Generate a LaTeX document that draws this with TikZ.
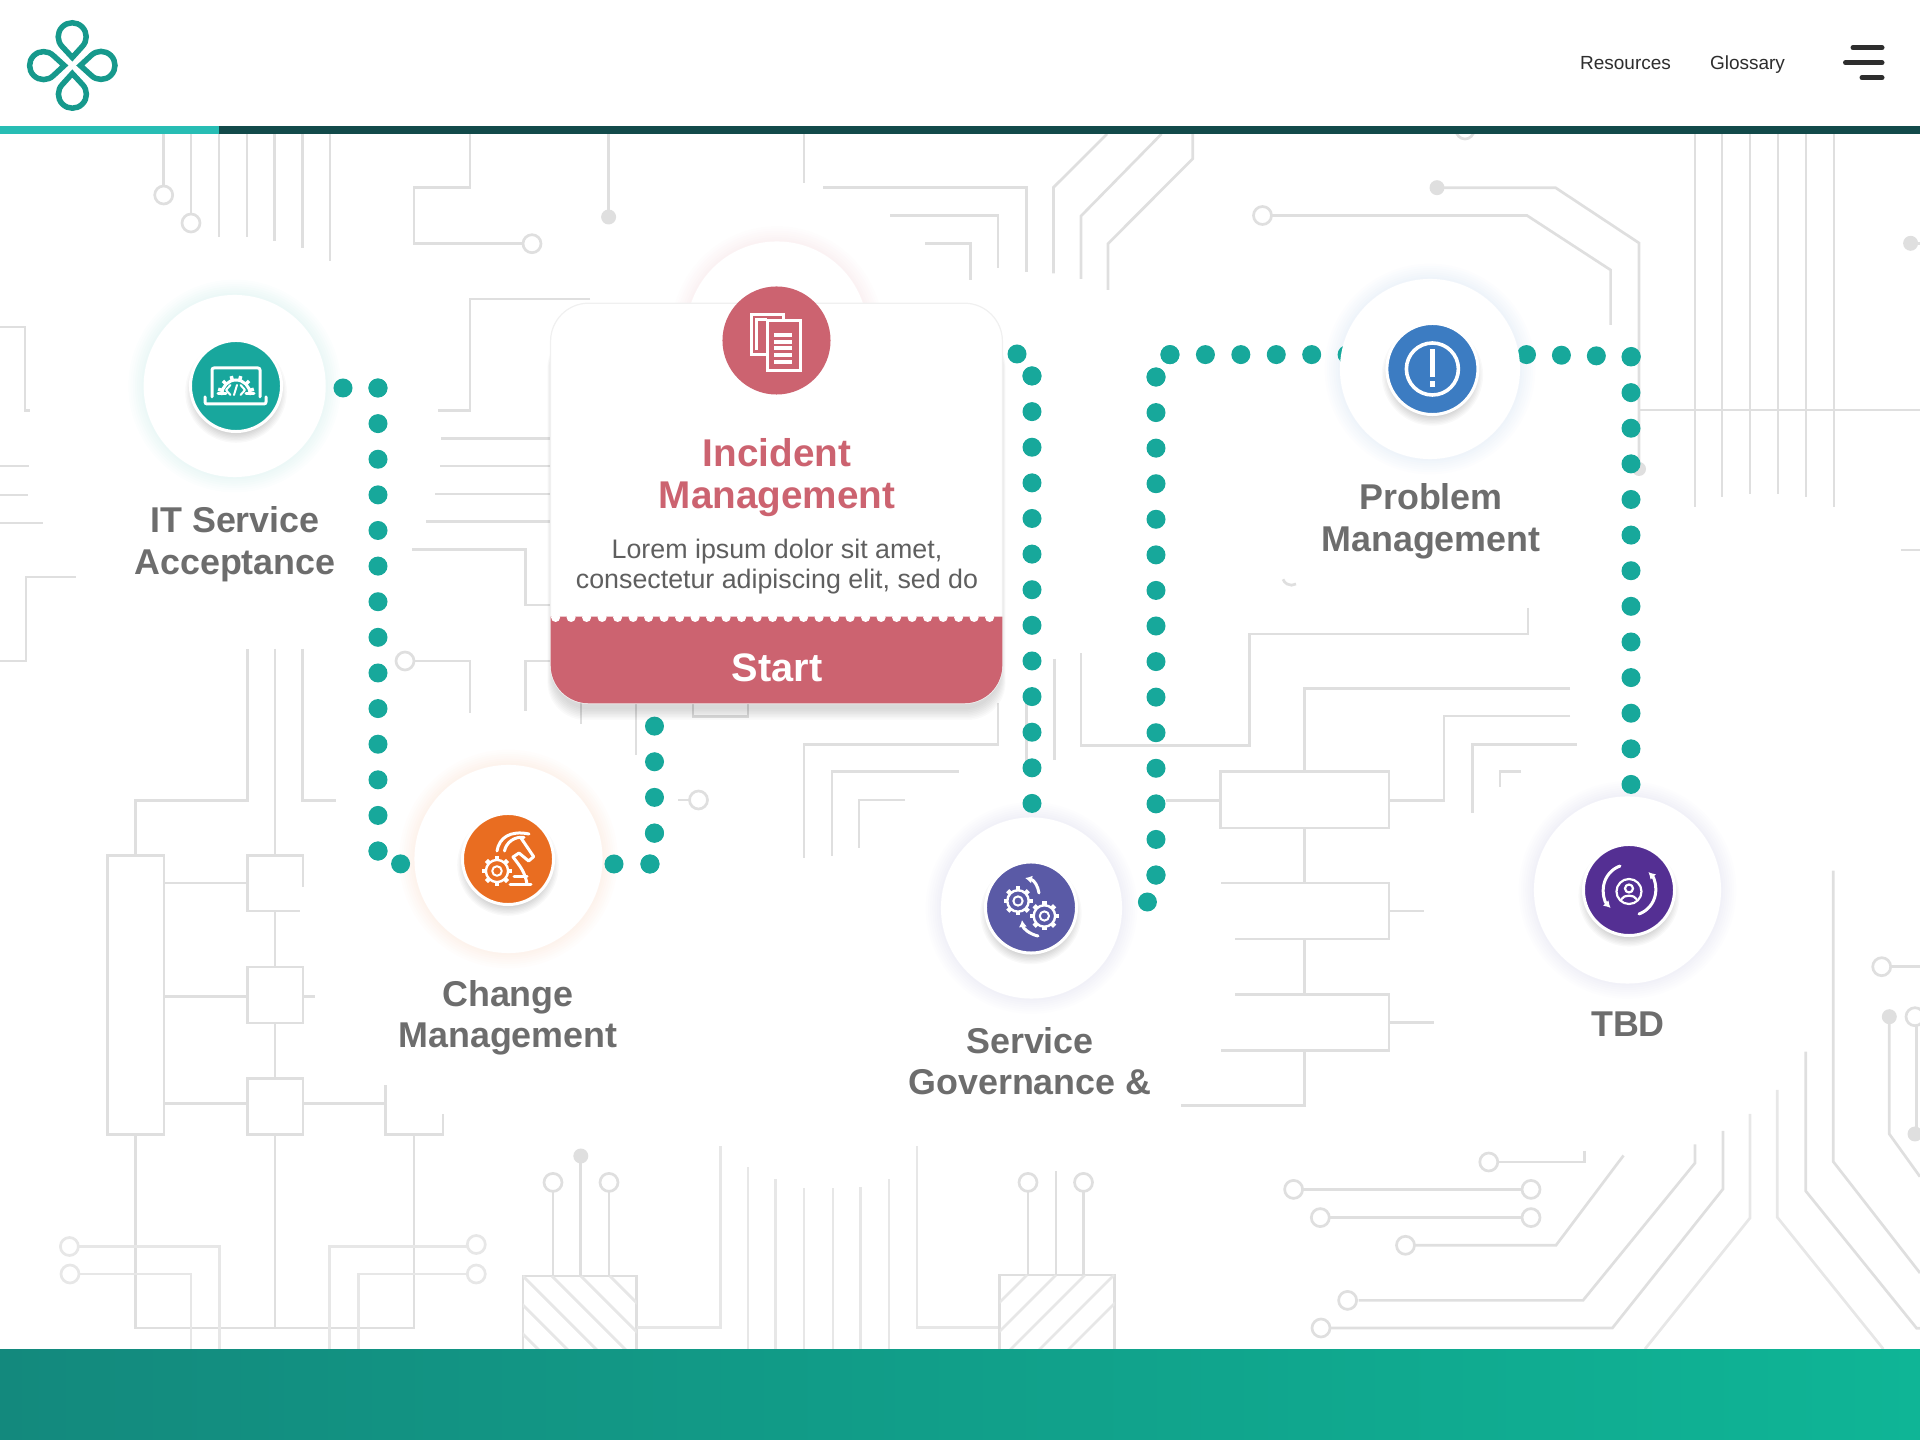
\documentclass[tikz,border=0pt]{standalone}
\usepackage{fontspec}
\setmainfont{Liberation Sans}
\usetikzlibrary{backgrounds,arrows.meta}
\tikzset{>={Latex[length=0.07cm,width=0.08cm]}}

\definecolor{wiregray}{HTML}{DFDFDF}
\definecolor{wirepale}{HTML}{E7E7E7}
\definecolor{dotteal}{HTML}{17A89B}
\definecolor{logoteal}{HTML}{16998C}
\definecolor{barteal}{HTML}{27BDB4}
\definecolor{bardark}{HTML}{124A4A}
\definecolor{acceptteal}{HTML}{18A79D}
\definecolor{rose}{HTML}{CC6370}
\definecolor{changeorange}{HTML}{E96D21}
\definecolor{govviolet}{HTML}{5A5AA6}
\definecolor{problemblue}{HTML}{3C7CC2}
\definecolor{tbdpurple}{HTML}{542F93}
\definecolor{labelgray}{HTML}{6D6D6D}
\definecolor{bodygray}{HTML}{5F5F5F}
\definecolor{navdark}{HTML}{2E2E2E}
\definecolor{footleft}{HTML}{13897D}
\definecolor{footright}{HTML}{0FB596}

\tikzset{
  wire/.style={draw=wiregray,line width=0.027cm,line join=miter},
  wirelow/.style={draw=wirepale,line width=0.027cm,line join=miter},
  dotlink/.style={draw=dotteal,line width=0.19cm,line cap=round,dash pattern=on 0pt off #1},
  halo/.style={circle,fill=white,inner sep=0pt,minimum size=#1},
  badge/.style={circle,draw=white,line width=0.03cm,inner sep=0pt,minimum size=0.91cm},
  iconline/.style={draw=white,line width=0.03cm,line cap=round,line join=round},
  steplabel/.style={text=labelgray,align=center,font=\bfseries\fontsize{10.2}{11.8}\selectfont},
  navlink/.style={text=navdark,anchor=base,font=\fontsize{5.4}{6.5}\selectfont},
  menubar/.style={draw=navdark,line width=0.05cm,line cap=round}
}

\begin{document}
\begin{tikzpicture}[x=0.01cm,y=-0.01cm]
  \useasboundingbox (0,0) rectangle (1920,1440);

  % help functions
        % open and filled pins on the traces
  \def\pinOpen(#1,#2){\draw[wire,fill=white] (#1,#2) circle (9);}
  \def\pinFull(#1,#2){\fill[wiregray] (#1,#2) circle (7.5);}
        % soft glow round a node
  \def\glowAt(#1,#2,#3){
    \foreach \k in {1,...,7}{
      \fill[#3,opacity=0.013] (#1) circle ({#2+\k*2.2});
    }}
        % soft shadow under a badge
  \def\shadowAt(#1,#2,#3){
    \foreach \k in {1,...,7}{
      \fill[black,opacity=0.024] (#1,#2+6) circle ({#3+\k*1.4-4.5});
    }}
        % small gear
  \def\gearAt(#1,#2,#3){
    \begin{scope}[shift={(#1,#2)}]
      \draw[iconline,line width=0.024cm] (0,0) circle ({#3*0.74});
      \draw[iconline,line width=0.02cm] (0,0) circle ({#3*0.32});
      \foreach \a in {0,45,...,315}{
        \draw[iconline,line cap=butt,line width=0.045cm] (\a:{#3*0.74}) -- (\a:#3);
      }
    \end{scope}}

  % STEPS
  \node[halo=1.82cm] (accept) at (234.7,386) {};
  \node[halo=1.88cm] (change) at (508.5,859) {};
  \node[halo=1.81cm] (incident) at (777,332) {};
  \node[halo=1.81cm] (govern) at (1031.5,908) {};
  \node[halo=1.80cm] (problem) at (1430,369) {};
  \node[halo=1.87cm] (tbd) at (1627.5,890) {};

  % connector ends
  \coordinate (a1) at (343,388);
  \coordinate (a2) at (378,388);
  \coordinate (a3) at (378,852);
  \coordinate (a4) at (378,851);
  \coordinate (a5) at (400.8,864);
  \coordinate (b1) at (614,864);
  \coordinate (b2) at (650,864);
  \coordinate (b3) at (654.5,833);
  \coordinate (b4) at (654.5,726);
  \coordinate (c1) at (1017,354);
  \coordinate (c2) at (1032,376);
  \coordinate (c3) at (1032,804.5);
  \coordinate (d1) at (1147.4,902);
  \coordinate (d2) at (1156,875);
  \coordinate (d3) at (1156,377);
  \coordinate (d4) at (1170,354.6);
  \coordinate (d5) at (1348,354.6);
  \coordinate (e1) at (1526.5,354.6);
  \coordinate (e2) at (1631.5,356.5);
  \coordinate (e3) at (1631,357);
  \coordinate (e4) at (1631,785);

  \begin{pgfonlayer}{background}
    % TRACES
      % top left
      \foreach \x/\yend in {219/237,247/237,274.7/241,302.4/248,330/260.7}{
        \draw[wire] (\x,134) -- (\x,\yend);
      }
      \draw[wire] (163.7,134) -- (163.7,186); \pinOpen(163.7,195)
      \draw[wire] (191,134) -- (191,214); \pinOpen(191,223)
      \draw[wire] (470,134) -- (470,187.7) -- (414,187.7) -- (414,243.7) -- (523,243.7); \pinOpen(532,243.7)
      \draw[wire] (608.6,134) -- (608.6,215); \pinFull(608.6,217)
      \draw[wire] (804,134) -- (804,182.7);
      % left edge
      \draw[wire] (0,327) -- (25,327) -- (25,410.7) -- (30,410.7);
      \draw[wire] (0,466) -- (28.6,466);
      \draw[wire] (0,495) -- (28,495);
      \draw[wire] (0,523) -- (43,523);
      \draw[wire] (0,661) -- (26,661) -- (26,577) -- (76,577);
      % round the card, left
      \draw[wire] (590,299) -- (470,299) -- (470,410.7) -- (438,410.7);
      \draw[wire] (441,438.3) -- (551,438.3);
      \draw[wire] (440,466) -- (551,466);
      \draw[wire] (435,494) -- (551,494);
      \draw[wire] (426,521.7) -- (551,521.7);
      \draw[wire] (412,549.3) -- (525.3,549.3) -- (525.3,605) -- (551,605);
      \draw[wire] (414,661) -- (470,661) -- (470,712.7); \pinOpen(405,661)
      \draw[wire] (525.3,711) -- (525.3,661) -- (551,661);
      \draw[wire] (581,703) -- (581,724);
      \draw[wire] (636,703) -- (636,755);
      \draw[wire] (693,703) -- (693,716.7) -- (748,716.7) -- (748,703);
      \draw[wire] (678,800) -- (690,800); \pinOpen(698.5,800)
      % top middle
      \draw[wire] (1107,134) -- (1053.5,187.4) -- (1053.5,273.5);
      \draw[wire] (1161.5,134) -- (1081,216) -- (1081,279);
      \draw[wire] (1192.8,134) -- (1192.8,158.7) -- (1108,243.7) -- (1108,290);
      \draw[wire] (823,187.3) -- (1026.7,187.3) -- (1026.7,271.7);
      \draw[wire] (890,215.3) -- (998,215.3) -- (998,268);
      \draw[wire] (925,243.3) -- (970.7,243.3) -- (970.7,280);
      % top right
      \draw[wire,fill=white] (1465,130) circle (9);
      \pinFull(1437,187.7)
      \draw[wire] (1437,187.7) -- (1555.5,187.7) -- (1639,243) -- (1639,465);
      \fill[wiregray] (1639,469) circle (7);
      \pinOpen(1262.5,215.5)
      \draw[wire] (1271.5,215.5) -- (1527,215.5) -- (1610.6,270) -- (1610.6,325);
      \foreach \x/\yend in {1695/507,1722/497,1750/494,1778/494,1806/497,1834/507}{
        \draw[wire] (\x,134) -- (\x,\yend);
      }
      \draw[wire] (1639,410) -- (1920,410);
      \pinFull(1910.6,243.3)
      \draw[wire] (1910.6,243.3) -- (1920,243.3);
      \draw[wire] (1900.6,550) -- (1920,550);
      % below the card, middle
      \draw[wire] (998,703) -- (998,744.4) -- (804,744.4) -- (804,857.7);
      \draw[wire] (958.7,771.7) -- (832,771.7) -- (832,855.7);
      \draw[wire] (905,800) -- (859,800) -- (859,848);
      \draw[wire] (1026.5,703) -- (1026.5,767);
      \draw[wire] (1054.7,659) -- (1054.7,760);
      \draw[wire] (1296,584) arc[start angle=60,end angle=160,radius=9];
      % ladder of boxes
      \draw[wire] (1528,608) -- (1528,634) -- (1249.4,634) -- (1249.4,745.7) -- (1081,745.7) -- (1081,653);
      \draw[wire] (1570,688.7) -- (1304.7,688.7) -- (1304.7,771.8);
      \draw[wire] (1570,716) -- (1444,716) -- (1444,800.4) -- (1389,800.4);
      \draw[wire] (1165.5,800.4) -- (1220.8,800.4);
      \draw[wire] (1220.8,771.8) rectangle (1389,828);
      \draw[wire] (1304.7,828) -- (1304.7,883);
      \draw[wire] (1221,883) -- (1389,883) -- (1389,939) -- (1235,939);
      \draw[wire] (1304.7,939) -- (1304.7,994.7);
      \draw[wire] (1235,994.7) -- (1389,994.7) -- (1389,1050.6) -- (1221,1050.6);
      \draw[wire] (1389,911) -- (1424,911);
      \draw[wire] (1389,1022.8) -- (1433.5,1022.8);
      \draw[wire] (1304.7,1050.6) -- (1304.7,1105.7) -- (1181,1105.7);
      \draw[wire] (1576.7,744.5) -- (1472.5,744.5) -- (1472.5,813);
      \draw[wire] (1521,771.4) -- (1500,771.4) -- (1500,787);
      % lower left
      \draw[wire] (107.8,855.5) rectangle (164,1134.3);
      \draw[wire] (135.5,855.5) -- (135.5,800.4) -- (247.3,800.4) -- (247.3,649);
      \draw[wire] (302.4,649) -- (302.4,800.4) -- (335.5,800.4);
      \draw[wire] (275,649) -- (275,855.5);
      \draw[wire] (303,887) -- (303,855.5) -- (247.3,855.5) -- (247.3,911) -- (300,911);
      \draw[wire] (247.3,967) rectangle (303,1023);
      \draw[wire] (247.3,1078.4) rectangle (303,1134.3);
      \draw[wire] (275,911) -- (275,967);
      \draw[wire] (275,1023) -- (275,1078.4);
      \foreach \y in {883,996.3,1103.7}{
        \draw[wire] (164,\y) -- (247.3,\y);
      }
      \draw[wire] (303,996.3) -- (315,996.3);
      \draw[wire] (303,1103.7) -- (385.7,1103.7);
      \draw[wire] (385.7,1085.3) -- (385.7,1134.3) -- (442.9,1134.3) -- (442.9,1114);
      \draw[wire] (275,1134.3) -- (275,1328);
      \draw[wire] (413.9,1134.3) -- (413.9,1328) -- (135.5,1328) -- (135.5,1134.3);
      % lower left pins
      \draw[wirelow] (78,1246.5) -- (219.6,1246.5) -- (219.6,1349);
      \draw[wirelow] (79,1274) -- (191,1274) -- (191,1349);
      \draw[wirelow] (467,1246.5) -- (329.8,1246.5) -- (329.8,1349);
      \draw[wirelow] (467,1274) -- (358.4,1274) -- (358.4,1349);
      \draw[wirelow,fill=white] (69.4,1246.5) circle (9);
      \draw[wirelow,fill=white] (70,1274) circle (9);
      \draw[wirelow,fill=white] (476.3,1244.5) circle (9);
      \draw[wirelow,fill=white] (476.3,1274) circle (9);
      % first chip
      \draw[wire] (522.9,1349) -- (522.9,1276) -- (636.7,1276) -- (636.7,1349);
      \begin{scope}
        \clip (522.9,1276) rectangle (636.7,1349);
        \foreach \d in {-58,-29,0,29,58,87}{
          \draw[wirelow] (522.9+\d,1276) -- (522.9+\d+100,1376);
        }
      \end{scope}
      \foreach \x in {553,609}{
        \draw[wire] (\x,1276) -- (\x,1191); \pinOpen(\x,1182.4)
      }
      \draw[wire] (580.8,1276) -- (580.8,1156); \pinFull(580.8,1156)
      % verticals between the chips
      \draw[wirelow] (636.7,1327.3) -- (720.3,1327.3) -- (720.3,1146);
      \foreach \x/\ytop in {748/1166.7,775.7/1179,804/1188,833/1188,860.7/1187,889/1179}{
        \draw[wirelow] (\x,1349) -- (\x,\ytop);
      }
      \draw[wirelow] (917,1146) -- (917,1327.3) -- (999.5,1327.3);
      % second chip
      \draw[wire] (999.5,1349) -- (999.5,1275) -- (1114.7,1275) -- (1114.7,1349);
      \begin{scope}
        \clip (999.5,1275) rectangle (1114.7,1349);
        \foreach \d in {-29,0,29,58,87,116}{
          \draw[wirelow] (1027+\d,1275) -- (1027+\d-100,1375);
        }
      \end{scope}
      \foreach \x in {1028,1083.5}{
        \draw[wire] (\x,1275) -- (\x,1191); \pinOpen(\x,1182.4)
      }
      \draw[wire] (1056,1275) -- (1056,1171);
      % lower right
      \draw[wire] (1584.4,1150.6) -- (1584.4,1162) -- (1498,1162); \pinOpen(1488.8,1162)
      \draw[wire] (1293.6,1189.4) -- (1531,1189.4); \pinOpen(1293.6,1189.4) \pinOpen(1531,1189.4)
      \draw[wire] (1320.3,1217.6) -- (1531,1217.6); \pinOpen(1320.3,1217.6) \pinOpen(1531,1217.6)
      \draw[wire] (1623.5,1155.5) -- (1556,1245.3) -- (1414,1245.3); \pinOpen(1405.5,1245.3)
      \draw[wire] (1695,1144.5) -- (1695,1163) -- (1583,1300.4) -- (1358.7,1300.4); \pinOpen(1347.6,1300.4)
      \draw[wire] (1723,1131) -- (1723,1189) -- (1612.4,1328) -- (1331,1328); \pinOpen(1321,1328)
      \draw[wirelow] (1750,1114) -- (1750,1218) -- (1645,1349);
      \draw[wirelow] (1777.3,1090) -- (1777.3,1217.3) -- (1883.3,1349);
      \draw[wire] (1805.7,1051.7) -- (1805.7,1191) -- (1916.7,1328.3) -- (1920,1328.3);
      \draw[wire] (1833.3,870.7) -- (1833.3,1161.7) -- (1920,1273);
      \draw[wire] (1890.7,966.7) -- (1920,966.7); \pinOpen(1881.7,966.7)
      \draw[wire] (1889.3,1016.7) -- (1889.3,1134) -- (1920,1176.7); \pinFull(1889.3,1016.7)
      \draw[wire] (1916.7,1025) -- (1916.7,1134); \pinOpen(1915,1016.7) \pinFull(1915,1134)

    % GLOWS
      \glowAt(accept,91,acceptteal)
      \glowAt(change,94,changeorange)
      \glowAt(incident,90.5,rose)
      \glowAt(govern,90.5,govviolet)
      \glowAt(problem,90,problemblue)
      \glowAt(tbd,93.5,govviolet)

    % CONNECTORS
      \draw[dotlink=0.349cm] (a1) -- (a2);
      \draw[dotlink=0.356cm] (a2) -- (a3);
      \draw[dotlink=0.26cm] (a4) -- (a5);
      \draw[dotlink=0.359cm] (b1) -- (b2);
      \draw[dotlink=0.31cm] (b2) -- (b3);
      \draw[dotlink=0.356cm] (b3) -- (b4);
      \draw[dotlink=0.265cm] (c1) -- (c2);
      \draw[dotlink=0.356cm] (c2) -- (c3);
      \draw[dotlink=0.282cm] (d1) -- (d2);
      \draw[dotlink=0.3555cm] (d2) -- (d3);
      \draw[dotlink=0.263cm] (d3) -- (d4);
      \draw[dotlink=0.354cm] (d4) -- (d5);
      \draw[dotlink=0.349cm] (e1) -- (e2);
      \draw[dotlink=0.356cm] (e3) -- (e4);

    % CARD SHADOW
      \foreach \k in {1,...,8}{
        \fill[black,opacity=0.02,rounded corners=0.38cm]
          (553-\k*0.7,330) rectangle (1000+\k*0.7,708+\k*1.5);
      }
  \end{pgfonlayer}

  % BADGE SHADOWS
  \shadowAt(236,386,45.5)
  \shadowAt(508,859,45.5)
  \shadowAt(1031,907.5,45.4)
  \shadowAt(1432.4,369,45.4)
  \shadowAt(1629,890,45.3)

  % HEADER AND FOOTER
  \fill[white] (0,0) rectangle (1920,126);
  \fill[barteal] (0,126) rectangle (219,134);
  \fill[bardark] (219,126) rectangle (1920,134);
  \shade[left color=footleft,right color=footright] (0,1349.5) rectangle (1920,1440);

  % logo
  \foreach \r in {0,90,180,270}{
    \begin{scope}[shift={(72.3,65.5)},rotate=\r]
      \draw[logoteal,line width=0.055cm,line join=miter]
        (0,-8) -- (-10,-18.8) arc[start angle=135,end angle=405,radius=14] -- cycle;
    \end{scope}
  }

  % menu
  \node[navlink] (resources) at (1625.5,69.3) {Resources};
  \node[navlink] (glossary) at (1747.5,69.3) {Glossary};
  \draw[menubar] (1853,47.7) -- (1882,47.7);
  \draw[menubar] (1845.5,62.7) -- (1882,62.7);
  \draw[menubar] (1862,77.7) -- (1882,77.7);

  % CARD
  \node[fill=white,draw=black!6,line width=0.012cm,rounded corners=0.38cm,inner sep=0pt,minimum width=4.516cm,minimum height=4cm]
    (card) at (776.5,503.3) {};
  \coordinate (bandtl) at (550.7,616.7);
  \coordinate (bandbl) at (550.7,703.3);
  \coordinate (bandbr) at (1002.3,703.3);
  \coordinate (bandtr) at (1002.3,616.7);
  \fill[rose] (bandtl) [rounded corners=0.38cm] -- (bandbl) -- (bandbr) -- (1002.3,600) [sharp corners] -- (bandtr) -- cycle;
  \foreach \k in {0,...,28}{
    \fill[white] ({555.6+\k*15.5},617.5) circle (4.5);
  }
  \node[text=rose,align=center,font=\bfseries\fontsize{11}{11.9}\selectfont] (cardtitle) at (777,478) {Incident\\Management};
  \node[text=bodygray,align=center,font=\fontsize{7.62}{8.7}\selectfont] (cardbody) at (777,566.5) {Lorem ipsum dolor sit amet,\\consectetur adipiscing elit, sed do};
  \node[text=white,font=\bfseries\fontsize{11.3}{13}\selectfont] (cardstart) at (777,668) {Start};

  % BADGES
  \node[badge,fill=acceptteal] (accepticon) at (236,386) {};
  \node[badge,fill=changeorange] (changeicon) at (508,859) {};
  \node[badge,fill=rose,draw=none,minimum size=1.08cm] (incidenticon) at (776.5,340.5) {};
  \node[badge,fill=govviolet] (governicon) at (1031,907.5) {};
  \node[badge,fill=problemblue] (problemicon) at (1432.4,369) {};
  \node[badge,fill=tbdpurple] (tbdicon) at (1629,890) {};

  % icon: laptop
  \draw[iconline,rounded corners=0.02cm] (212,397) -- (212,368) -- (260,368) -- (260,397);
  \draw[iconline,rounded corners=0.02cm] (205,397) -- (205,404) -- (266,404) -- (266,397);
  \draw[iconline] (222,394) arc[start angle=180,end angle=360,radius=14];
  \draw[iconline] (218,394) -- (226,394);
  \draw[iconline] (246,394) -- (254,394);
  \foreach \a in {195,225,255,285,315,345}{
    \draw[iconline,line cap=butt,line width=0.035cm] ([shift={(\a:14)}]236,394) -- ([shift={(\a:18.5)}]236,394);
  }
  \draw[iconline,line width=0.02cm] (230.5,385) -- (226,390) -- (230.5,395);
  \draw[iconline,line width=0.02cm] (237,385) -- (234,395);
  \draw[iconline,line width=0.02cm] (240.5,385) -- (245,390) -- (240.5,395);

  % icon: papers
  \draw[iconline,line cap=butt,line join=miter] (766,355) -- (751.5,355) -- (751.5,315) -- (783,315) -- (783,320);
  \draw[iconline,line cap=butt,line join=miter] (756.5,350) -- (756.5,320) -- (767,320);
  \draw[iconline,line join=miter] (767.5,321) rectangle (800.5,371);
  \foreach \y in {335,341.7,348.3,355,361.7}{
    \draw[white,line width=0.04cm] (774.3,\y) -- (791.7,\y);
  }

  % icon: knight and gear
  \gearAt(497,871,15)
  \draw[iconline] (497,851) .. controls (499,838) and (510,830) .. (529,834);
  \draw[iconline] (504.5,851) .. controls (506,843) and (514,836) .. (524,837.5);
  \draw[iconline] (521,838) -- (533.7,856.7) -- (528.6,861) -- (519,853) -- (513,857)
    .. controls (520,866) and (525,872) .. (527,884);
  \draw[iconline] (510,884.5) -- (531,884.5);
  \draw[iconline] (514,877) -- (527,877);

  % icon: two gears
  \gearAt(1018,901,14.5)
  \gearAt(1044.4,916,14.5)
  \draw[iconline,<-] (1025,878) .. controls (1034,880) and (1038,886) .. (1039,893);
  \draw[iconline,<-] (1022,920) .. controls (1023,928) and (1029,934) .. (1038,936);

  % icon: warning
  \draw[iconline,line width=0.036cm] (problemicon) circle (26);
  \fill[white] (1430,349) rectangle (1435,377);
  \fill[white] (1430,380.7) rectangle (1435,387);

  % icon: person in a cycle
  \draw[iconline,->] (1639,914) arc[start angle=70,end angle=-45,radius=25.5];
  \draw[iconline,->] (1620,866) arc[start angle=250,end angle=135,radius=25.5];
  \draw[iconline,line width=0.022cm] (1629,891.5) circle (12.5);
  \draw[iconline,line width=0.022cm] (1629,888.5) circle (4);
  \draw[iconline,line width=0.022cm] (1621.5,899) .. controls (1624,894.5) and (1634,894.5) .. (1636.5,899);

  % LABELS
  \node[steplabel] (acceptlabel) at (235,544) {IT Service\\Acceptance};
  \node[steplabel] (changelabel) at (508,1018) {Change\\Management};
  \node[steplabel] (governlabel) at (1030,1061) {Service\\Governance \&};
  \node[steplabel] (problemlabel) at (1431,521.5) {Problem\\Management};
  \node[steplabel] (tbdlabel) at (1628,1024) {TBD};

\end{tikzpicture}
\end{document}
